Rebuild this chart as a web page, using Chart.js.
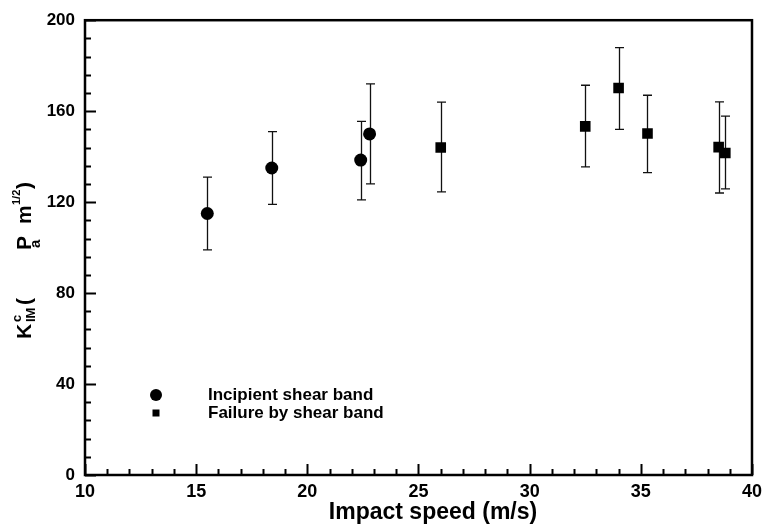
<!DOCTYPE html>
<html>
<head>
<meta charset="utf-8">
<script src="https://cdn.jsdelivr.net/npm/chart.js@4.4.1/dist/chart.umd.min.js"></script>
<style>
  html, body { margin: 0; background: #fff; }
  #wrap { width: 768px; height: 526px; position: relative; }
</style>
</head>
<body>
<div id="wrap"><canvas id="chart"></canvas></div>
<script>
// --- data ---
const incipientX = [15.5, 18.4, 22.4, 22.8];
const incipientY = [115, 135, 138.5, 150];
const incipientLo = [99, 119, 121, 128];
const incipientHi = [131, 151, 155.5, 172];

const failureX = [26, 32.5, 34, 35.3, 38.5, 38.8];
const failureY = [144, 153.3, 170.2, 150.2, 144.2, 141.6];
const failureLo = [124.5, 135.5, 152, 133, 124, 125.8];
const failureHi = [164, 171.4, 187.9, 167, 164.1, 157.8];

const seriesNames = ['Incipient shear band', 'Failure by shear band'];
const xTitle = 'Impact speed (m/s)';

const FONT = '"Liberation Sans", Arial, Helvetica, sans-serif';

function toPoints(xs, ys, lo, hi) {
  return xs.map((x, i) => ({ x, y: ys[i], lo: lo[i], hi: hi[i] }));
}

// error bars drawn below the markers
const errorBars = {
  id: 'errorBars',
  beforeDatasetsDraw(chart) {
    const { ctx, scales: { x, y } } = chart;
    ctx.save();
    ctx.strokeStyle = '#111';
    ctx.lineWidth = 1.3;
    chart.data.datasets.forEach(ds => {
      ds.data.forEach(p => {
        const px = Math.round(x.getPixelForValue(p.x)) + 0.5;
        const top = y.getPixelForValue(p.hi);
        const bot = y.getPixelForValue(p.lo);
        ctx.beginPath();
        ctx.moveTo(px, top); ctx.lineTo(px, bot);
        ctx.moveTo(px - 4.5, top); ctx.lineTo(px + 4.5, top);
        ctx.moveTo(px - 4.5, bot); ctx.lineTo(px + 4.5, bot);
        ctx.stroke();
      });
    });
    ctx.restore();
  }
};

// frame, inward ticks, axis titles and the in-plot legend
const frame = {
  id: 'frame',
  afterDraw(chart) {
    const { ctx, chartArea: a, scales: { x, y } } = chart;
    ctx.save();
    ctx.strokeStyle = '#000';

    ctx.lineWidth = 2;
    ctx.beginPath();
    for (let v = 10; v <= 40; v += 1) {
      const px = Math.round(x.getPixelForValue(v)) + 0.5;
      const len = v % 5 === 0 ? 11 : 6;
      ctx.moveTo(px, a.bottom); ctx.lineTo(px, a.bottom - len);
    }
    for (let v = 0; v <= 200; v += 8) {
      const py = Math.round(y.getPixelForValue(v)) + 0.5;
      const len = v % 40 === 0 ? 11 : 6;
      ctx.moveTo(a.left, py); ctx.lineTo(a.left + len, py);
    }
    ctx.stroke();

    ctx.lineWidth = 2.5;
    ctx.strokeRect(a.left, a.top, a.right - a.left, a.bottom - a.top);

    // x title
    ctx.fillStyle = '#000';
    ctx.font = `bold 23px ${FONT}`;
    ctx.textAlign = 'center';
    ctx.textBaseline = 'alphabetic';
    ctx.fillText(xTitle, 433, 519);

    // y title (rotated, pieces placed like the original)
    ctx.save();
    ctx.translate(31, 339);
    ctx.rotate(-Math.PI / 2);
    ctx.textAlign = 'left';
    const parts = [
      ['K', 0, 0, 21], ['c', 17, -10, 13], ['IM', 17, 4, 13], ['(', 34, 0, 21],
      ['P', 89, 0, 21], ['a', 91, 9, 15], ['m', 115, 0, 21],
      ['1/2', 134, -11, 11], [')', 150, 0, 21]
    ];
    parts.forEach(([t, s, d, f]) => {
      ctx.font = `bold ${f}px ${FONT}`;
      ctx.fillText(t, s, d);
    });
    ctx.restore();

    // legend
    ctx.font = `bold 17px ${FONT}`;
    ctx.textAlign = 'left';
    ctx.textBaseline = 'middle';
    ctx.beginPath();
    ctx.arc(156, 395, 6, 0, Math.PI * 2);
    ctx.fill();
    ctx.fillText(seriesNames[0], 208, 395);
    ctx.fillRect(152.5, 409.5, 7, 7);
    ctx.fillText(seriesNames[1], 208, 413);
    ctx.restore();
  }
};

const ctx = document.getElementById('chart').getContext('2d');
new Chart(ctx, {
  type: 'scatter',
  data: {
    datasets: [
      {
        label: seriesNames[0],
        data: toPoints(incipientX, incipientY, incipientLo, incipientHi),
        pointStyle: 'circle',
        pointRadius: 6.5,
        backgroundColor: '#000',
        borderWidth: 0
      },
      {
        label: seriesNames[1],
        data: toPoints(failureX, failureY, failureLo, failureHi),
        pointStyle: 'rect',
        pointRadius: 7.5,
        backgroundColor: '#000',
        borderWidth: 0
      }
    ]
  },
  options: {
    responsive: true,
    maintainAspectRatio: false,
    animation: false,
    layout: { padding: { top: 14, right: 11, left: 0, bottom: 0 } },
    plugins: { legend: { display: false }, tooltip: { enabled: false } },
    scales: {
      x: {
        type: 'linear',
        min: 10, max: 40,
        grid: { display: false, drawTicks: false },
        border: { display: false },
        ticks: {
          stepSize: 5, autoSkip: false, maxRotation: 0, padding: 6,
          color: '#000', font: { family: FONT, size: 18, weight: 'bold' }
        },
        afterFit(scale) { scale.height = 51; }
      },
      y: {
        type: 'linear',
        min: 0, max: 200,
        grid: { display: false, drawTicks: false },
        border: { display: false },
        ticks: {
          stepSize: 40, autoSkip: false, padding: 10,
          color: '#000', font: { family: FONT, size: 17, weight: 'bold' }
        },
        afterFit(scale) { scale.width = 85; }
      }
    }
  },
  plugins: [errorBars, frame]
});
</script>
</body>
</html>
